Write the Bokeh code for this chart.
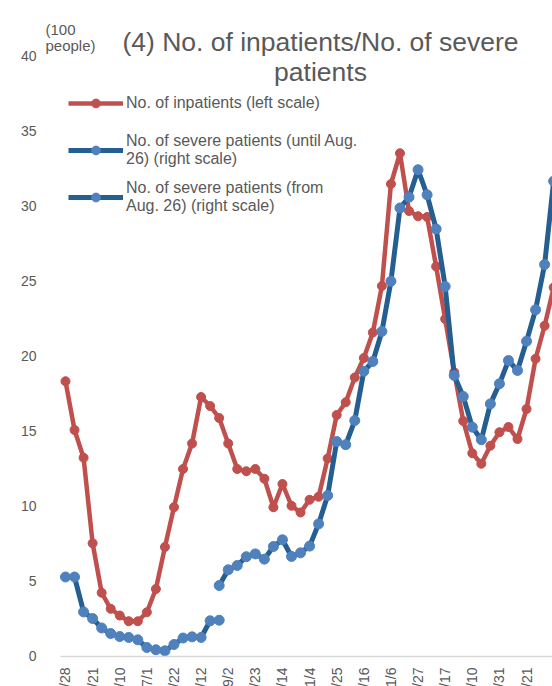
import math
import numpy as np
from bokeh.plotting import figure
from bokeh.models import (Range1d, Label, Legend, LegendItem, FixedTicker,
                          ColumnDataSource, LinearAxis)
from bokeh.embed import file_html
from bokeh.resources import INLINE

# ---------------- data ----------------
tick_labels = ["4/28", "5/21", "6/10", "7/1", "7/22", "8/12", "9/2", "9/23",
               "10/14", "11/4", "11/25", "12/16", "1/6", "1/27", "2/17",
               "3/10", "3/31", "4/21", "5/12"]
label_step = 3          # one date label every 3 weekly points
y_ticks = [0, 5, 10, 15, 20, 25, 30, 35, 40]

# No. of inpatients (left scale, 100 people)
inpatients = [18.35, 15.1, 13.25, 7.55, 4.25, 3.18, 2.73, 2.35, 2.35, 2.95,
              4.5, 7.3, 9.95, 12.5, 14.2, 17.3, 16.7, 15.9, 14.2, 12.5,
              12.35, 12.5, 11.85, 9.95, 11.5, 10.05, 9.6, 10.45, 10.65, 13.2,
              16.1, 16.95, 18.6, 19.9, 21.6, 24.7, 31.5, 33.55, 29.7, 29.35,
              29.3, 26.0, 22.5, 18.95, 15.7, 13.55, 12.85, 14.05, 14.95, 15.3,
              14.5, 16.5, 19.85, 22.05, 24.6]

# No. of severe patients (right scale; the right axis lies outside the picture)
severe_until_aug26 = [5.3, 5.3, 2.97, 2.53, 1.9, 1.53, 1.33, 1.27, 1.11, 0.6,
                      0.45, 0.38, 0.8, 1.23, 1.31, 1.27, 2.38, 2.42] + [None] * 37

severe_from_aug26 = [None] * 17 + [4.73, 5.78, 6.07, 6.65, 6.84, 6.49, 7.33, 7.78,
                                   6.67, 6.91, 7.36, 8.84, 10.73, 14.33, 14.12,
                                   15.73, 19.02, 19.67, 21.67, 25.02, 29.9, 30.62,
                                   32.45, 30.78, 28.5, 24.67, 18.73, 17.33, 15.29,
                                   14.45, 16.84, 18.18, 19.73, 19.07, 21.02, 23.11,
                                   26.13, 31.69]

# ---------------- styles ----------------
FONT = "Liberation Sans"
GREY = "#595959"
RED = "#C0504D"
BLUE_LINE = "#255E91"
BLUE_PT = "#4F81BD"

X_START, X_END = -7.19, 53.872     # visible window of the category axis
Y_START, Y_END = -2.0, 43.733
AXIS_X = -0.553                   # left edge of the plotting area

idx = list(range(len(inpatients)))
src = ColumnDataSource(dict(
    x=idx,
    inp=np.array(inpatients, dtype=float),
    sev_a=np.array(severe_until_aug26, dtype=float),
    sev_b=np.array(severe_from_aug26, dtype=float),
))

p = figure(width=552, height=686, output_backend="svg", toolbar_location=None,
           x_range=Range1d(X_START, X_END), y_range=Range1d(Y_START, Y_END),
           x_axis_location=None, y_axis_location=None,
           min_border_left=0, min_border_right=0, min_border_top=0,
           min_border_bottom=0)
p.outline_line_color = None
p.grid.visible = False
p.background_fill_color = "white"
p.border_fill_color = "white"

# left value axis (fixed at the left edge of the plotting area)
yax = LinearAxis(fixed_location=AXIS_X, ticker=FixedTicker(ticks=y_ticks),
                 axis_line_color=None, major_tick_line_color=None,
                 minor_tick_line_color=None, major_label_standoff=18,
                 major_label_text_font=FONT, major_label_text_font_size="14px",
                 major_label_text_color=GREY)
p.add_layout(yax, "left")

# category (date) axis at zero
tick_x = [i * label_step for i in range(len(tick_labels))]
xax = LinearAxis(fixed_location=0, ticker=FixedTicker(ticks=tick_x),
                 bounds=(AXIS_X, 54.5),
                 major_label_overrides={t: l for t, l in zip(tick_x, tick_labels)},
                 axis_line_color="#D9D9D9", axis_line_width=1.5,
                 major_tick_line_color=None, minor_tick_line_color=None,
                 major_label_orientation=math.pi / 2, major_label_standoff=5,
                 major_label_text_font=FONT, major_label_text_font_size="14px",
                 major_label_text_color=GREY)
p.add_layout(xax, "below")

r1l = p.line("x", "inp", source=src, line_color=RED, line_width=4.5, line_join="round")
r1p = p.scatter("x", "inp", source=src, size=9, fill_color=RED, line_color=RED)

r2l = p.line("x", "sev_a", source=src, line_color=BLUE_LINE, line_width=5, line_join="round")
r2p = p.scatter("x", "sev_a", source=src, size=10, fill_color=BLUE_PT, line_color=BLUE_PT)
r3l = p.line("x", "sev_b", source=src, line_color=BLUE_LINE, line_width=5, line_join="round")
r3p = p.scatter("x", "sev_b", source=src, size=10, fill_color=BLUE_PT, line_color=BLUE_PT)

legend = Legend(items=[
    LegendItem(label="No. of inpatients (left scale)", renderers=[r1l, r1p]),
    LegendItem(label="No. of severe patients (until Aug.\n26) (right scale)", renderers=[r2l, r2p]),
    LegendItem(label="No. of severe patients (from\nAug. 26) (right scale)", renderers=[r3l, r3p]),
], location=(68, 470.5), orientation="vertical", glyph_width=55, glyph_height=22,
    label_height=37, label_standoff=3, spacing=10, padding=0, margin=0,
    border_line_color=None, background_fill_alpha=0,
    label_text_font=FONT, label_text_font_size="16px", label_text_color=GREY,
    label_text_line_height=1.15)
p.add_layout(legend)

# title and unit (screen units measured from the plot's bottom-left corner)
for txt, yy in [("(4) No. of inpatients/No. of severe", 644.3), ("patients", 614.3)]:
    p.add_layout(Label(x=320, y=yy, x_units="screen", y_units="screen", text=txt,
                       text_align="center", text_baseline="alphabetic",
                       text_font=FONT, text_font_size="26.5px", text_color=GREY))
for txt, yy in [("(100", 657.5), ("people)", 641)]:
    p.add_layout(Label(x=45, y=yy, x_units="screen", y_units="screen", text=txt,
                       text_align="left", text_baseline="alphabetic",
                       text_font=FONT, text_font_size="15px", text_color=GREY))

open("out.html", "w").write(file_html(p, INLINE))
